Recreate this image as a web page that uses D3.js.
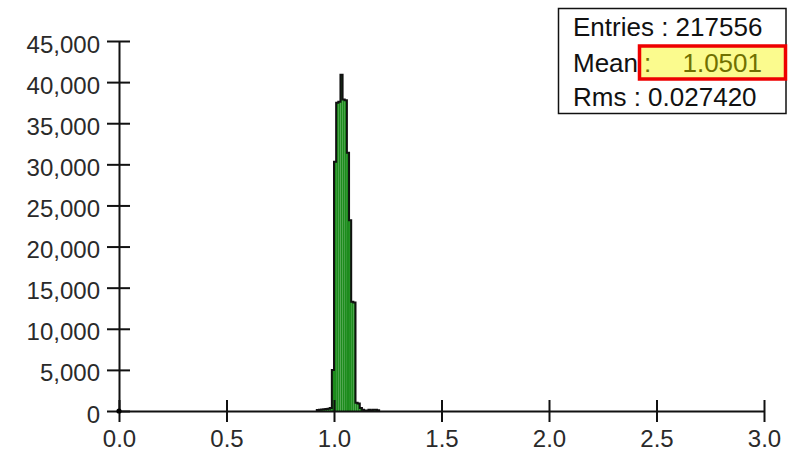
<!DOCTYPE html>
<html>
<head>
<meta charset="utf-8">
<script src="https://cdn.jsdelivr.net/npm/d3@7"></script>
<style>
  html, body { margin: 0; padding: 0; background: #fff; }
  svg { display: block; }
  text { font-family: "Liberation Sans", Arial, sans-serif; }
</style>
</head>
<body>
<svg id="chart" width="791" height="459"></svg>
<script>
// Histogram bins: lower edge of each bin and its count (bin width 0.01)
const binLow = [0.92, 0.93, 0.94, 0.95, 0.96, 0.97, 0.98, 0.99, 1.00, 1.01,
                1.02, 1.03, 1.04, 1.05, 1.06, 1.07, 1.08, 1.09, 1.10, 1.11,
                1.12, 1.13, 1.14, 1.15, 1.16, 1.17, 1.18, 1.19, 1.20];
const binCounts = [120, 150, 180, 200, 230, 280, 380, 5000, 30300, 37500,
                   37600, 40900, 37900, 37800, 31400, 23200, 13300, 13200, 1000, 900,
                   350, 150, 60, 40, 150, 60, 150, 150, 100];
const binWidth = 0.01;

// Axis ticks
const xTicks = [0.0, 0.5, 1.0, 1.5, 2.0, 2.5, 3.0];
const yTicks = [0, 5000, 10000, 15000, 20000, 25000, 30000, 35000, 40000, 45000];

// Statistics box
const statEntries = "217556";
const statMean = "1.0501";
const statRms = "0.027420";

const svg = d3.select("#chart");

const x = d3.scaleLinear().domain([0, 3]).range([119, 764]);
const y = d3.scaleLinear().domain([0, 45000]).range([411, 41]);

const bins = binLow.map((lo, i) => ({ lo, hi: lo + binWidth, count: binCounts[i] }));

// Filled bars
svg.append("g")
  .selectAll("rect")
  .data(bins)
  .join("rect")
  .attr("x", d => x(d.lo))
  .attr("y", d => y(d.count))
  .attr("width", d => x(d.hi) - x(d.lo))
  .attr("height", d => y(0) - y(d.count))
  .attr("fill", "#1d8c1d");

// Outer step outline of the histogram
const pts = [[x(bins[0].lo), y(0)]];
bins.forEach(d => {
  pts.push([x(d.lo), y(d.count)]);
  pts.push([x(d.hi), y(d.count)]);
});
pts.push([x(bins[bins.length - 1].hi), y(0)]);
svg.append("path")
  .attr("d", d3.line()(pts))
  .attr("fill", "none")
  .attr("stroke", "#111")
  .attr("stroke-width", 2)
  .attr("stroke-linejoin", "miter");

// Y axis
const yAxis = svg.append("g")
  .attr("transform", `translate(${x(0)},0)`)
  .call(d3.axisLeft(y).tickValues(yTicks).tickSize(12).tickSizeOuter(0)
        .tickPadding(7).tickFormat(d3.format(",")));
yAxis.select(".domain").attr("stroke", "#111").attr("stroke-width", 2);
yAxis.selectAll(".tick line").attr("x1", 11).attr("stroke", "#111").attr("stroke-width", 2);
yAxis.selectAll(".tick text")
  .attr("dy", null).attr("y", 11)
  .attr("font-size", 24).attr("fill", "#2a2a2a")
  .attr("font-family", "Liberation Sans, Arial, sans-serif");

// X axis
const xAxis = svg.append("g")
  .attr("transform", `translate(0,${y(0)})`)
  .call(d3.axisBottom(x).tickValues(xTicks).tickSize(11).tickSizeOuter(0)
        .tickPadding(8).tickFormat(d3.format(".1f")));
xAxis.select(".domain").attr("stroke", "#111").attr("stroke-width", 2);
xAxis.selectAll(".tick line").attr("y1", -11).attr("stroke", "#111").attr("stroke-width", 2);
xAxis.selectAll(".tick text")
  .attr("font-size", 24).attr("fill", "#2a2a2a")
  .attr("font-family", "Liberation Sans, Arial, sans-serif");

// Marker at the origin
svg.append("circle")
  .attr("cx", x(0)).attr("cy", y(0)).attr("r", 2.6)
  .attr("fill", "#000");

// Statistics box
const box = svg.append("g");
box.append("rect")
  .attr("x", 558.5).attr("y", 8.5).attr("width", 227.5).attr("height", 105)
  .attr("fill", "#fff").attr("stroke", "#111").attr("stroke-width", 1.5);

box.append("rect")
  .attr("x", 639.5).attr("y", 46).attr("width", 146).attr("height", 33)
  .attr("fill", "#fbfb8e").attr("stroke", "#ee0000").attr("stroke-width", 3.5);

box.append("text").attr("x", 573).attr("y", 36)
  .attr("font-size", 26).attr("fill", "#111")
  .text(`Entries : ${statEntries}`);
box.append("text").attr("x", 573).attr("y", 71.5)
  .attr("font-size", 26).attr("fill", "#111")
  .text("Mean");
box.append("text").attr("x", 644).attr("y", 71.5)
  .attr("font-size", 26).attr("fill", "#707000")
  .text(":");
box.append("text").attr("x", 762).attr("y", 71.5)
  .attr("font-size", 26).attr("fill", "#707000").attr("text-anchor", "end")
  .text(statMean);
box.append("text").attr("x", 573).attr("y", 106)
  .attr("font-size", 26).attr("fill", "#111")
  .text(`Rms : ${statRms}`);
</script>
</body>
</html>
